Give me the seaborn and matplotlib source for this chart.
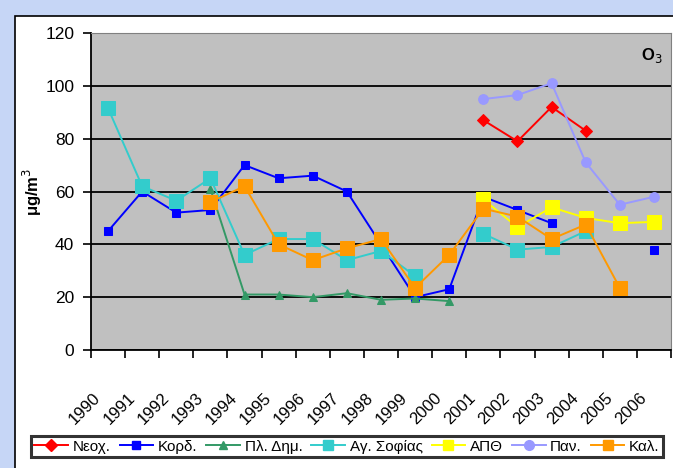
import matplotlib
matplotlib.use('Agg')
import matplotlib.pyplot as plt
import matplotlib.transforms as mtransforms
from matplotlib.lines import Line2D
from matplotlib.patches import Rectangle
import seaborn as sns
import numpy as np

years = [str(y) for y in range(1990, 2007)]

# O3 annual means (μg/m3), None = no measurement
neox = [None] * 11 + [87, 79, 92, 83, None, None]
kord = [45, 60, 52, 53, 70, 65, 66, 60, 40, 20, 23, 58, 53, 48, None, None, 38]
pl_dim = [None, None, None, 61, 21, 21, 20, 21.5, 19, 19.5, 18.5] + [None] * 6
ag_sof = [91.5, 62, 56.5, 65, 36, 42, 42, 34, 37.5, 28, None, 44, 38, 39, 45, None, None]
apth = [None] * 11 + [57, 46.5, 54, 50, 48, 48.5]
pan = [None] * 11 + [95, 96.5, 101, 71, 55, 58]
kal = [None, None, None, 56, 62, 40, 34, 38.5, 42, 23.5, 36, 53.5, 50.5, 42, 47.5, 23.5, None]

series = [
    ('Νεοχ.', neox, '#ff0000', 'D', 6),
    ('Κορδ.', kord, '#0000ff', 's', 6),
    ('Πλ. Δημ.', pl_dim, '#339966', '^', 5.5),
    ('Αγ. Σοφίας', ag_sof, '#33cccc', 's', 9.5),
    ('ΑΠΘ', apth, '#ffff00', 's', 9.5),
    ('Παν.', pan, '#9999ff', 'o', 7),
    ('Καλ.', kal, '#ff9900', 's', 9.5),
]

plt.rcParams['font.family'] = ['Liberation Sans', 'DejaVu Sans']

fig = plt.figure(figsize=(6.73, 4.68), dpi=100)
fig.patch.set_facecolor('#c6d6f6')
fig.patches.append(Rectangle((15 / 673, -0.01), 1.0, (468 - 16) / 468 + 0.01,
                             transform=fig.transFigure, facecolor='white',
                             edgecolor='black', linewidth=1.2, zorder=-5))

ax = fig.add_axes([91 / 673, (468 - 350) / 468, (671 - 91) / 673, (350 - 33) / 468])
ax.set_zorder(2)
ax.set_facecolor('#c0c0c0')

pos = np.arange(len(years))
for i, (name, vals, color, marker, ms) in enumerate(series):
    # split into contiguous runs so gaps stay gaps
    runs, cur = [], []
    for p, v in zip(pos, vals):
        if v is None:
            if cur:
                runs.append(cur)
            cur = []
        else:
            cur.append((p, v))
    if cur:
        runs.append(cur)
    for run in runs:
        xs = [r[0] for r in run]
        ys = [r[1] for r in run]
        sns.lineplot(x=xs, y=ys, ax=ax, color=color, marker=marker, markersize=ms,
                     markeredgecolor=color, linewidth=1.4, zorder=3 + i,
                     estimator=None, sort=False)

ax.set_xlim(-0.5, len(years) - 0.5)
ax.set_ylim(0, 120)
ax.set_yticks(range(0, 121, 20))
ax.yaxis.grid(True, color='black', linewidth=1.3)
ax.set_axisbelow(True)
ax.set_xticks(pos)
ax.set_xticks(np.arange(-0.5, len(years), 1.0), minor=True)
ax.tick_params(axis='x', which='major', length=0, pad=29)
ax.tick_params(axis='x', which='minor', length=5.5, width=1.2, direction='out')
ax.tick_params(axis='y', length=5.5, width=1.2, labelsize=12.5, pad=6.5)
ax.set_xticklabels(years, rotation=45, ha='right', rotation_mode='anchor', fontsize=12)
shift = mtransforms.ScaledTranslation(-15 / 100, 0, fig.dpi_scale_trans)
for lbl in ax.get_xticklabels():
    lbl.set_transform(lbl.get_transform() + shift)
for s in ['left', 'bottom']:
    ax.spines[s].set_color('black')
    ax.spines[s].set_linewidth(1.3)
for s in ['top', 'right']:
    ax.spines[s].set_color('#808080')
    ax.spines[s].set_linewidth(0.8)

fig.text(32 / 673, 1 - 192 / 468, 'μg/m$^3$', rotation=90, ha='center', va='center',
         fontsize=12, fontweight='bold')
ax.text(0.985, 0.93, 'O$_3$', transform=ax.transAxes, ha='right', va='center',
        fontsize=12, fontweight='bold')

handles = [Line2D([0], [0], color=c, marker=m, markersize=min(ms, 7), linewidth=1.4,
                  markeredgecolor=c) for _, _, c, m, ms in series]
labels = [s[0] for s in series]
leg = fig.legend(handles, labels, loc='lower left', ncol=7, mode='expand',
                 bbox_to_anchor=(23 / 673, 3 / 468, 648 / 673, 27 / 468),
                 fontsize=11, frameon=True, fancybox=False, handlelength=2.2,
                 handletextpad=0.3, columnspacing=0.6, borderpad=0.25)
leg.get_frame().set_edgecolor('black')
leg.get_frame().set_linewidth(2.2)

fig.savefig('out.png', dpi=100, facecolor=fig.get_facecolor())
